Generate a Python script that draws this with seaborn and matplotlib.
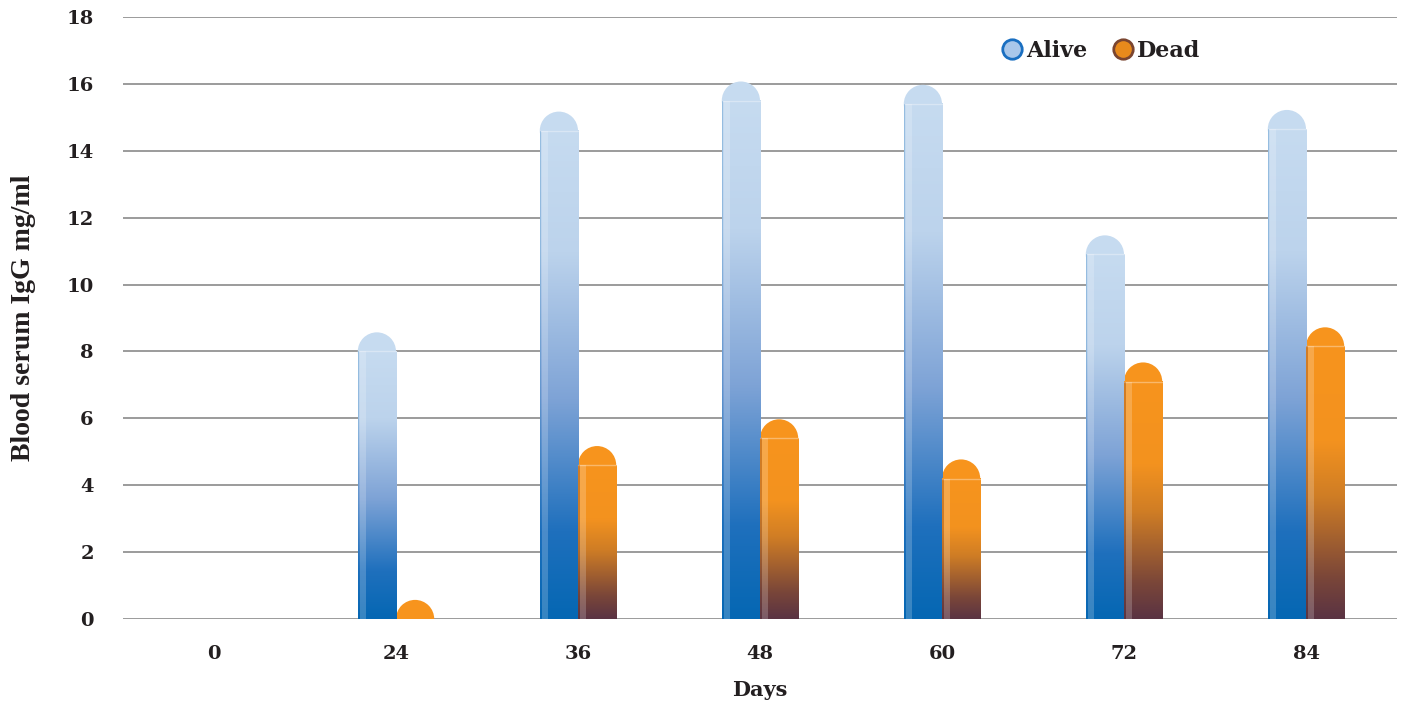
import numpy as np
import pandas as pd
import matplotlib
matplotlib.use("Agg")
import matplotlib.pyplot as plt
import seaborn as sns
from matplotlib.colors import LinearSegmentedColormap, to_hex
from matplotlib.patches import Ellipse, Rectangle
from matplotlib.lines import Line2D

days = ["0", "24", "36", "48", "60", "72", "84"]
alive = [np.nan, 8.0, 14.6, 15.5, 15.4, 10.9, 14.65]
dead = [np.nan, 0.0, 4.6, 5.4, 4.2, 7.1, 8.15]
series = ["Alive", "Dead"]

df = pd.DataFrame({
    "Days": days * 2,
    "value": alive + dead,
    "series": ["Alive"] * len(days) + ["Dead"] * len(days),
})

sns.set_theme(style="white")
plt.rcParams["font.family"] = ["DejaVu Serif"]

fig = plt.figure(figsize=(14.06, 7.07), dpi=100)
ax = fig.add_axes([123 / 1406, 1 - 619 / 707, (1397 - 123) / 1406, (619 - 17) / 707])

top_col = {"Alive": "#c6dbf0", "Dead": "#f7941d"}
sns.barplot(data=df, x="Days", y="value", hue="series", order=days, hue_order=series,
            width=0.42, ax=ax, palette=[top_col["Alive"], top_col["Dead"]], legend=False,
            err_kws={"linewidth": 0}, saturation=1)

ax.set_ylim(0, 18)
ax.set_xlim(-0.5, 6.5)
ax.set_yticks(np.arange(0, 19, 2))
ax.yaxis.grid(True, color="#8a8a8a", linewidth=1.2)
ax.set_axisbelow(True)
for s in ax.spines.values():
    s.set_visible(False)
ax.tick_params(axis="both", length=0, labelsize=14)
for lab in ax.get_xticklabels() + ax.get_yticklabels():
    lab.set_fontweight("bold")
    lab.set_color("#231f20")
ax.tick_params(axis="x", pad=19)
ax.tick_params(axis="y", pad=21)
ax.set_xlabel("Days", fontsize=15, fontweight="bold", color="#231f20", labelpad=12)
ax.set_ylabel("Blood serum IgG mg/ml", fontsize=20, fontweight="bold", color="#231f20",
              family="Liberation Serif", labelpad=22)

cmaps = {
    "Alive": LinearSegmentedColormap.from_list("a", [(0, "#0567b3"), (0.18, "#1f70bd"),
                                                     (0.45, "#7ea3d6"), (0.75, "#bcd3ec"),
                                                     (1, "#c6dbf0")]),
    "Dead": LinearSegmentedColormap.from_list("d", [(0, "#5a3343"), (0.15, "#7a4639"),
                                                    (0.45, "#cf7d25"), (0.65, "#f3921f"),
                                                    (1, "#f7941d")]),
}

fig.canvas.draw()
px_x = ax.transData.transform((1, 0))[0] - ax.transData.transform((0, 0))[0]
px_y = ax.transData.transform((0, 1))[1] - ax.transData.transform((0, 0))[1]

grad = np.linspace(0, 1, 256).reshape(-1, 1)
for p in list(ax.patches):
    fc = to_hex(p.get_facecolor()).lower()
    s = "Alive" if fc == top_col["Alive"] else "Dead"
    h = p.get_height()
    if not np.isfinite(h):
        p.set_visible(False)
        continue
    x0 = p.get_x()
    w = p.get_width()
    p.set_facecolor("none")
    p.set_edgecolor("none")
    cap_h = w * px_x / px_y
    ell = Ellipse((x0 + w / 2, h), w, cap_h, facecolor=top_col[s], edgecolor="none", zorder=2)
    ax.add_patch(ell)
    if h > 0:
        ax.imshow(grad, cmap=cmaps[s], aspect="auto", origin="lower",
                  extent=(x0, x0 + w, 0, h), zorder=3, interpolation="bicubic")
        ax.add_line(Line2D([x0, x0 + w], [h, h], color="white", alpha=0.35, lw=1, zorder=4))
        ax.add_patch(Rectangle((x0 + 0.06 * w, 0), 0.16 * w, h, facecolor="white",
                               alpha=0.2, edgecolor="none", zorder=4))
        ax.add_patch(Rectangle((x0, 0), 0.04 * w, h, facecolor=cmaps[s](0.05),
                               alpha=0.25, edgecolor="none", zorder=4))
ax.set_xlim(-0.5, 6.5)
ax.set_ylim(0, 18)

handles = [
    Line2D([], [], marker="o", linestyle="none", markersize=14, markerfacecolor="#a9c7ea",
           markeredgecolor="#1a6fc1", markeredgewidth=2),
    Line2D([], [], marker="o", linestyle="none", markersize=14, markerfacecolor="#e88a1c",
           markeredgecolor="#7a4530", markeredgewidth=2),
]
leg = ax.legend(handles, series, loc="center left", bbox_to_anchor=(0.673, 0.944), ncol=2,
                frameon=False, handletextpad=0.15, columnspacing=1.1, handlelength=1.0,
                prop={"weight": "bold", "size": 16})
for t in leg.get_texts():
    t.set_color("#231f20")

fig.savefig("out.png", dpi=100)
